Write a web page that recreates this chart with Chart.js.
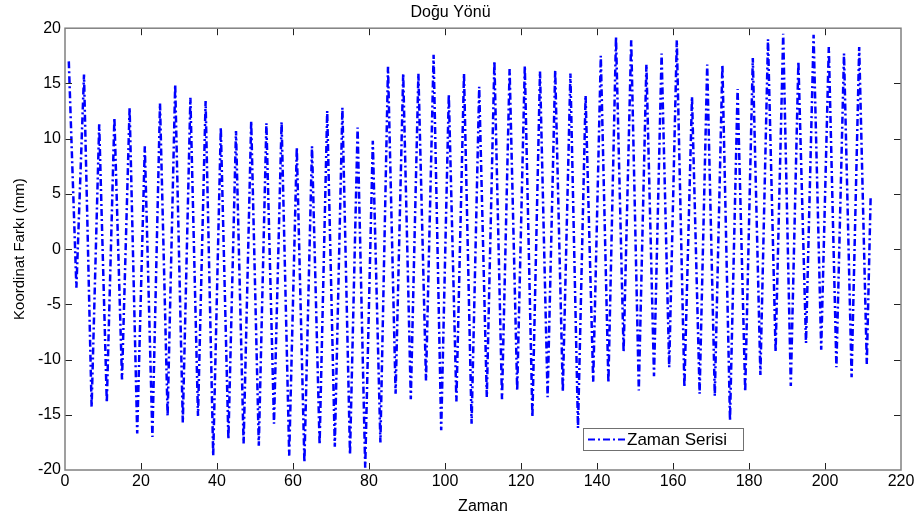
<!DOCTYPE html>
<html>
<head>
<meta charset="utf-8">
<title>Doğu Yönü</title>
<script src="https://cdn.jsdelivr.net/npm/chart.js@4.4.1/dist/chart.umd.min.js"></script>
<style>
  html, body { margin: 0; padding: 0; background: #fff; }
  #wrap { width: 918px; height: 520px; }
</style>
</head>
<body>
<div id="wrap"><canvas id="chart" width="918" height="520"></canvas></div>
<script>
// time index of each turning point
const zaman = [
  1, 3, 5, 7, 9, 11, 13, 15, 17, 19, 21, 23, 25, 27, 29, 31, 33, 35, 37, 39,
  41, 43, 45, 47, 49, 51, 53, 55, 57, 59, 61, 63, 65, 67, 69, 71, 73, 75, 77, 79,
  81, 83, 85, 87, 89, 91, 93, 95, 97, 99, 101, 103, 105, 107, 109, 111, 113, 115, 117, 119,
  121, 123, 125, 127, 129, 131, 133, 135, 137, 139, 141, 143, 145, 147, 149, 151, 153, 155, 157, 159,
  161, 163, 165, 167, 169, 171, 173, 175, 177, 179, 181, 183, 185, 187, 189, 191, 193, 195, 197, 199,
  201, 203, 205, 207, 209, 211, 212
];

// koordinat farki (mm)
const koordinatFarki = [
  17.0, -3.5, 15.8, -14.3, 11.3, -13.9, 11.9, -11.8, 12.8, -16.7,
  9.3, -17.0, 13.2, -15.1, 14.9, -15.7, 13.7, -15.1, 13.4, -18.7,
  11.0, -17.2, 10.7, -17.6, 11.6, -17.8, 11.4, -15.8, 11.5, -18.7,
  9.2, -19.3, 9.3, -17.7, 12.5, -17.9, 12.8, -18.6, 11.0, -19.8,
  9.8, -17.5, 16.5, -13.1, 15.9, -13.6, 15.9, -11.9, 17.6, -16.4,
  14.0, -13.8, 15.9, -15.8, 14.7, -13.4, 17.0, -13.6, 16.3, -12.8,
  16.6, -15.2, 16.1, -13.4, 16.2, -12.9, 15.9, -16.2, 13.9, -12.0,
  17.5, -12.1, 19.2, -9.3, 18.9, -12.8, 16.7, -11.5, 17.7, -10.7,
  18.9, -12.5, 13.8, -13.1, 16.7, -13.3, 16.7, -15.5, 14.5, -12.9,
  17.3, -11.4, 19.0, -9.3, 19.5, -12.4, 17.0, -8.5, 19.4, -9.1,
  18.3, -10.7, 17.7, -11.6, 18.3, -10.4, 4.6
];

const xTicks = [0, 20, 40, 60, 80, 100, 120, 140, 160, 180, 200, 220];
const yTicks = [-20, -15, -10, -5, 0, 5, 10, 15, 20];

const FONT = "'Liberation Sans', Arial, sans-serif";
const LINE_DASH = [7, 3, 2, 3];

const points = zaman.map((t, i) => ({ x: t, y: koordinatFarki[i] }));

// matlab style box, inward ticks and legend
const matlabFrame = {
  id: "matlabFrame",
  afterDraw(chart) {
    const { ctx, chartArea: a, scales } = chart;
    ctx.save();

    ctx.strokeStyle = "#222";
    ctx.lineWidth = 1;
    ctx.beginPath();
    scales.x.ticks.forEach((t) => {
      const px = Math.round(scales.x.getPixelForValue(t.value)) + 0.5;
      if (px <= a.left + 1 || px >= a.right - 1) return;
      ctx.moveTo(px, a.bottom);
      ctx.lineTo(px, a.bottom - 7);
      ctx.moveTo(px, a.top);
      ctx.lineTo(px, a.top + 7);
    });
    scales.y.ticks.forEach((t) => {
      const py = Math.round(scales.y.getPixelForValue(t.value)) + 0.5;
      if (py <= a.top + 1 || py >= a.bottom - 1) return;
      ctx.moveTo(a.left, py);
      ctx.lineTo(a.left + 7, py);
      ctx.moveTo(a.right, py);
      ctx.lineTo(a.right - 7, py);
    });
    ctx.stroke();

    ctx.strokeStyle = "#808080";
    ctx.lineWidth = 1.5;
    ctx.strokeRect(a.left, a.top, a.right - a.left, a.bottom - a.top);

    // legend
    const ds = chart.data.datasets[0];
    const bx = a.right - 318;
    const by = a.bottom - 42;
    const bw = 160;
    const bh = 22;
    ctx.fillStyle = "#fff";
    ctx.fillRect(bx, by, bw, bh);
    ctx.strokeStyle = "#707070";
    ctx.lineWidth = 1;
    ctx.strokeRect(bx + 0.5, by + 0.5, bw, bh);

    ctx.strokeStyle = ds.borderColor;
    ctx.lineWidth = 2;
    ctx.setLineDash(LINE_DASH);
    ctx.beginPath();
    ctx.moveTo(bx + 5, by + bh / 2 + 0.5);
    ctx.lineTo(bx + 42, by + bh / 2 + 0.5);
    ctx.stroke();
    ctx.setLineDash([]);

    ctx.fillStyle = "#000";
    ctx.font = "17px " + FONT;
    ctx.textBaseline = "middle";
    ctx.textAlign = "left";
    ctx.fillText(ds.label, bx + 44, by + bh / 2 + 1);

    ctx.restore();
  },
};

new Chart(document.getElementById("chart"), {
  type: "line",
  data: {
    datasets: [
      {
        label: "Zaman Serisi",
        data: points,
        borderColor: "#0000ff",
        borderWidth: 2.5,
        borderDash: LINE_DASH,
        pointRadius: 0,
        tension: 0,
        fill: false,
      },
    ],
  },
  options: {
    responsive: false,
    animation: false,
    layout: { padding: { left: 0, right: 17, top: 0, bottom: 0 } },
    plugins: {
      legend: { display: false },
      tooltip: { enabled: false },
      title: {
        display: true,
        text: "Doğu Yönü",
        color: "#000",
        font: { family: FONT, size: 16, weight: "normal" },
        padding: { top: 3, bottom: 6 },
      },
    },
    scales: {
      x: {
        type: "linear",
        min: 0,
        max: 220,
        afterBuildTicks: (s) => { s.ticks = xTicks.map((v) => ({ value: v })); },
        afterFit: (s) => { s.height = 50; s.paddingLeft = 0; s.paddingRight = 0; },
        grid: { display: false, drawTicks: false },
        border: { display: false },
        ticks: { color: "#000", padding: 2, maxRotation: 0, font: { family: FONT, size: 16 } },
        title: {
          display: true,
          text: "Zaman",
          color: "#000",
          font: { family: FONT, size: 16 },
          padding: { top: 0, bottom: 4 },
        },
      },
      y: {
        type: "linear",
        min: -20,
        max: 20,
        afterBuildTicks: (s) => { s.ticks = yTicks.map((v) => ({ value: v })); },
        afterFit: (s) => { s.width = 65; s.paddingTop = 0; s.paddingBottom = 0; },
        grid: { display: false, drawTicks: false },
        border: { display: false },
        ticks: { color: "#000", padding: 4, font: { family: FONT, size: 16 } },
        title: {
          display: true,
          text: "Koordinat Farkı (mm)",
          color: "#000",
          font: { family: FONT, size: 15 },
          padding: { top: 11, bottom: 0 },
        },
      },
    },
  },
  plugins: [matlabFrame],
});
</script>
</body>
</html>
